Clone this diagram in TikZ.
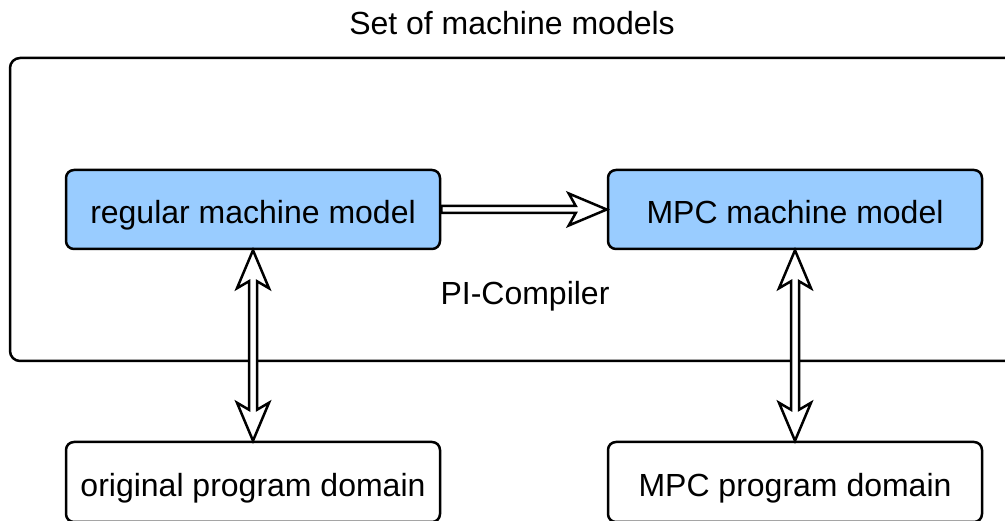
\documentclass[tikz,border=0pt]{standalone}
\usepackage{fontspec}
\setmainfont{Liberation Sans}
\usetikzlibrary{calc}
\definecolor{boxblue}{RGB}{153,204,255}
\begin{document}
\begin{tikzpicture}[x=1pt,y=1pt,
  box/.style={draw, line width=2.5pt, rounded corners=8pt, minimum width=374pt, minimum height=79pt, font=\fontsize{32}{38}\selectfont, inner sep=0pt, text height=29pt, text depth=0pt},
  bluebox/.style={box, fill=boxblue},
  lbl/.style={font=\fontsize{32}{38}\selectfont, inner sep=0pt, anchor=base},
  darrow/.style={draw, line width=2.5pt, fill=white, line join=miter}]
\useasboundingbox (0,0) rectangle (1005,521);
\clip (0,0) rectangle (1005,521);
\node[lbl] (title) at (512,486) {Set of machine models};
\node[draw, line width=2.5pt, rounded corners=10pt, minimum width=1020pt, minimum height=303pt, inner sep=0pt] (set) at (520,311.5) {};
\node[bluebox] (reg) at (253,311.5) {regular machine model};
\node[bluebox] (mpc) at (795,311.5) {MPC machine model};
\node[box, minimum height=80pt] (orig) at (253,39) {original program domain};
\node[box, minimum height=80pt] (mpcprog) at (795,39) {MPC program domain};
\node[lbl] (pic) at (525,216.5) {PI-Compiler};
% compiler arrow
\path[darrow] ($(reg.east)+(0,3.5)$) -- ($(mpc.west)+(-31,3.5)$) -- ($(mpc.west)+(-38,16)$) -- (mpc.west) -- ($(mpc.west)+(-38,-16)$) -- ($(mpc.west)+(-31,-3.5)$) -- ($(reg.east)+(0,-3.5)$) -- cycle;
% vertical double arrows
\path[darrow] (reg.south) -- ($(reg.south)+(16,-38)$) -- ($(reg.south)+(4,-31)$) -- ($(orig.north)+(4,31)$) -- ($(orig.north)+(16,38)$) -- (orig.north) -- ($(orig.north)+(-16,38)$) -- ($(orig.north)+(-4,31)$) -- ($(reg.south)+(-4,-31)$) -- ($(reg.south)+(-16,-38)$) -- cycle;
\path[darrow] (mpc.south) -- ($(mpc.south)+(16,-38)$) -- ($(mpc.south)+(4,-31)$) -- ($(mpcprog.north)+(4,31)$) -- ($(mpcprog.north)+(16,38)$) -- (mpcprog.north) -- ($(mpcprog.north)+(-16,38)$) -- ($(mpcprog.north)+(-4,31)$) -- ($(mpc.south)+(-4,-31)$) -- ($(mpc.south)+(-16,-38)$) -- cycle;
\end{tikzpicture}
\end{document}
